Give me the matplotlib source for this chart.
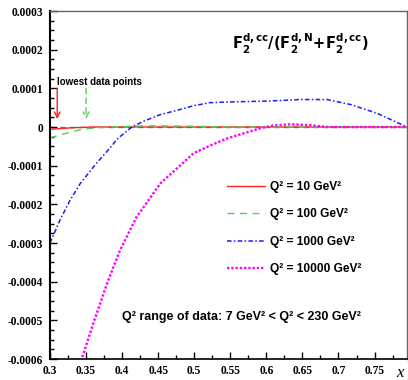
import matplotlib
matplotlib.use("Agg")
import matplotlib.pyplot as plt
from matplotlib.ticker import MultipleLocator, FuncFormatter

# ---- data (y in units of 1e-4) ----
x_10 = [0.30, 0.33, 0.36, 0.40, 0.795]
y_10 = [-0.06, -0.02, 0.0, 0.0, 0.0]

x_100 = [0.30, 0.321, 0.344, 0.37, 0.40, 0.43, 0.46, 0.50, 0.55, 0.795]
y_100 = [-0.28, -0.17, -0.06, -0.01, 0.01, 0.03, 0.03, 0.02, 0.0, 0.0]

x_1000 = [0.300, 0.314, 0.328, 0.342, 0.3625, 0.386, 0.3926, 0.4134, 0.4296, 0.4528,
          0.476, 0.499, 0.522, 0.554, 0.601, 0.647, 0.684, 0.717, 0.754, 0.795]
y_1000 = [-3.00, -2.40, -1.89, -1.46, -0.98, -0.48, -0.32, 0.00, 0.147, 0.32,
          0.43, 0.55, 0.63, 0.65, 0.67, 0.71, 0.71, 0.58, 0.35, 0.0]

x_10000 = [0.340, 0.344, 0.360, 0.379, 0.397, 0.420, 0.453, 0.499, 0.522, 0.545,
           0.564, 0.592, 0.610, 0.633, 0.660, 0.684, 0.740, 0.795]
y_10000 = [-6.15, -6.0, -5.08, -4.05, -3.19, -2.33, -1.46, -0.68, -0.48, -0.30,
           -0.19, -0.03, 0.04, 0.07, 0.05, 0.0, 0.0, 0.0]

labels = ["Q² = 10 GeV²", "Q² = 100 GeV²", "Q² = 1000 GeV²", "Q² = 10000 GeV²"]
arrow_x = [0.31, 0.35]
scale = 1e-4

fig = plt.figure(figsize=(4.08, 3.80), dpi=100)
ax = fig.add_axes([50/408, 21/380, 357/408, 348/380])

ax.axhline(0, color="#777777", lw=1.0, ls=(0, (4, 3)), zorder=1)

styles = [
    dict(color="#ff2020", ls="-", lw=1.0),
    dict(color="#55cc55", ls=(0, (5, 4)), lw=1.0),
    dict(color="#1a1aff", ls=(0, (3, 1.5, 1, 1.5)), lw=1.1),
    dict(color="#ff00ff", ls=(0, (1, 0.8)), lw=1.7),
]
series = [(x_10, y_10), (x_100, y_100), (x_1000, y_1000), (x_10000, y_10000)]
handles = []
for (xs, ys), st, lab in zip(series, styles, labels):
    ln, = ax.plot(xs, [v * scale for v in ys], label=lab, zorder=2, **st)
    handles.append(ln)

ax.set_xlim(0.3, 0.795)
ax.set_ylim(-0.0006, 0.0003)

ax.xaxis.set_major_locator(MultipleLocator(0.05))
ax.xaxis.set_minor_locator(MultipleLocator(0.025))
ax.yaxis.set_major_locator(MultipleLocator(0.0001))
ax.yaxis.set_minor_locator(MultipleLocator(0.000025))
ax.yaxis.set_major_formatter(FuncFormatter(lambda v, p: "0" if abs(v) < 1e-9 else f"{v:.4f}"))
ax.xaxis.set_major_formatter(FuncFormatter(lambda v, p: f"{v:g}"))
ax.tick_params(which="both", direction="in", top=False, right=False)
ax.tick_params(which="major", length=5, width=1)
ax.tick_params(which="minor", length=3, width=1)
for lab in ax.get_xticklabels() + ax.get_yticklabels():
    lab.set_fontfamily("Liberation Serif")
    lab.set_fontweight("bold")
    lab.set_fontsize(8.3)
ax.tick_params(axis="y", pad=5)
ax.tick_params(axis="x", pad=4)

ax.spines["left"].set_linewidth(1.5)
ax.spines["bottom"].set_linewidth(1.2)
for s in ["top", "right"]:
    ax.spines[s].set_color("#666666")
    ax.spines[s].set_linewidth(1.0)

# arrows
arrow_cols = ["#ff2020", "#55cc55"]
arrow_ls = ["-", (0, (4, 3))]
for xa, c, ls in zip(arrow_x, arrow_cols, arrow_ls):
    ax.annotate("", xy=(xa, 0.0000205), xytext=(xa, 0.0001),
                arrowprops=dict(arrowstyle="->", color=c, lw=1.0, ls=ls,
                                shrinkA=0, shrinkB=0, mutation_scale=10))

ax.text(0.3103, 0.000117, "lowest data points", fontsize=7, fontweight="bold",
        family="Liberation Sans", va="center", ha="left")

fig.text(300/408, 1 - 44/380,
         r"$\mathbf{F_2^{d,cc}/(F_2^{d,N}\!+\!F_2^{d,cc})}$",
         fontsize=10.5, ha="center", va="center")

leg = ax.legend(handles=handles, loc="upper left",
                bbox_to_anchor=(216/408, 1 - 170/380), bbox_transform=fig.transFigure,
                frameon=False, handlelength=3.2, handletextpad=0.45,
                labelspacing=1.3, prop=dict(family="Liberation Sans", weight="bold", size=8.6))

fig.text(122/408, 1 - 317/380, "Q² range of data: 7 GeV² < Q² < 230 GeV²",
         fontsize=9, fontweight="bold", family="Liberation Sans", ha="left", va="center")

fig.text(400/408, 1 - 373/380, "x", fontsize=12, style="italic",
         family="Liberation Serif", ha="center", va="center")

fig.savefig("out.png", dpi=100)
